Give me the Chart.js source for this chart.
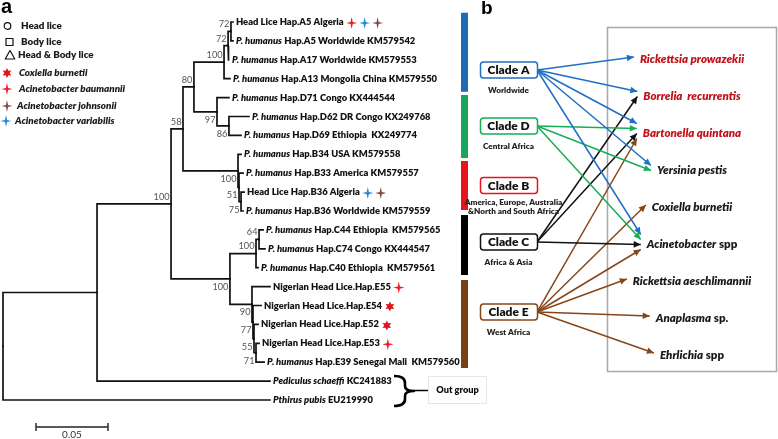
<!DOCTYPE html>
<html>
<head>
<meta charset="utf-8">
<script src="https://cdn.jsdelivr.net/npm/chart.js@4.4.1/dist/chart.umd.min.js"></script>
<style>
html, body { margin: 0; padding: 0; background: #fff; }
#wrap { width: 778px; height: 439px; position: relative; }
</style>
</head>
<body>
<div id="wrap"><canvas id="fig"></canvas></div>
<script>
// ---- panel a: haplotype tree, branch lengths in substitutions/site
const tipItalic = ['', 'P. humanus', 'P. humanus', 'P. humanus', 'P. humanus', 'P. humanus', 'P. humanus',
  'P. humanus', 'P. humanus', '', 'P. humanus', 'P. humanus', 'P. humanus', 'P. humanus',
  '', '', '', '', 'P. humanus', 'Pediculus schaeffi', 'Pthirus pubis'];
const tipText = ['Head Lice Hap.A5 Algeria', 'Hap.A5 Worldwide KM579542', 'Hap.A17 Worldwide KM579553',
  'Hap.A13 Mongolia China KM579550', 'Hap.D71 Congo KX444544', 'Hap.D62 DR Congo KX249768',
  'Hap.D69 Ethiopia  KX249774', 'Hap.B34 USA KM579558', 'Hap.B33 America KM579557',
  'Head Lice Hap.B36 Algeria', 'Hap.B36 Worldwide KM579559', 'Hap.C44 Ethiopia  KM579565',
  'Hap.C74 Congo KX444547', 'Hap.C40 Ethiopia  KM579561', 'Nigerian Head Lice.Hap.E55',
  'Nigerian Head Lice.Hap.E54', 'Nigerian Head Lice.Hap.E52', 'Nigerian Head Lice.Hap.E53',
  'Hap.E39 Senegal Mali  KM579560', 'KC241883', 'EU219990'];
const tipDepth = [0.1597, 0.1597, 0.1569, 0.1576, 0.1569, 0.1708, 0.1653, 0.1653, 0.1667, 0.1674, 0.1667,
  0.1806, 0.1819, 0.1771, 0.1854, 0.1792, 0.1771, 0.1778, 0.1813, 0.1854, 0.1854];
const tipParent = [7, 7, 6, 5, 8, 9, 9, 10, 11, 12, 12, 15, 15, 14, 16, 17, 18, 19, 19, 1, 0];

// internal nodes (0 = root)
const nodeDepth = [0, 0.0653, 0.1167, 0.1250, 0.1326, 0.1535, 0.1563, 0.1583, 0.1486, 0.1569,
  0.1632, 0.1639, 0.1653, 0.1576, 0.1757, 0.1778, 0.1729, 0.1736, 0.1743, 0.1757];
const nodeParent = [-1, 0, 1, 2, 3, 4, 5, 6, 4, 8, 3, 10, 11, 2, 13, 14, 13, 16, 17, 18];
const nodeSupport = [null, null, 100, 58, 80, 100, 72, 72, 97, 86, 100, 51, 75, 100, 100, 64, 90, 77, 55, 71];

// bacteria detected per haplotype
const hostTip = [0, 0, 0, 9, 9, 14, 15, 16, 17];
const hostBacterium = ['baumannii', 'variabilis', 'johnsonii', 'variabilis', 'johnsonii',
  'baumannii', 'burnetii', 'burnetii', 'baumannii'];

// clade bars, in tip rows (A, D, B, C, E)
const cladeBarFrom = [-0.49, 3.86, 7.35, 10.21, 13.65];
const cladeBarTo = [3.69, 7.2, 9.95, 13.39, 18.31];
const scaleBarLength = 0.05;

// ---- panel b: clades and pathogens
const clades = ['Clade A', 'Clade D', 'Clade B', 'Clade C', 'Clade E'];
const cladeRegion = [['Worldwide'], ['Central Africa'], ['America, Europe, Australia', '&North and South Africa'],
  ['Africa & Asia'], ['West Africa']];
const pathogenItalic = ['Rickettsia prowazekii', 'Borrelia  recurrentis', 'Bartonella quintana', 'Yersinia pestis',
  'Coxiella burnetii', 'Acinetobacter', 'Rickettsia aeschlimannii', 'Anaplasma', 'Ehrlichia'];
const pathogenPlain = ['', '', '', '', '', ' spp', '', ' sp.', ' spp'];
const linkClade =    [0, 0, 0, 0, 0, 1, 1, 1, 3, 3, 3, 4, 4, 4, 4, 4, 4];
const linkPathogen = [0, 1, 2, 3, 5, 2, 3, 5, 1, 2, 5, 2, 4, 5, 6, 7, 8];

// ---- layout / style
const FONT = 'Lato, "Open Sans", sans-serif';
const W = '800';
const cladeColor = ['#1f6fc4', '#17ad57', '#e3161e', '#111111', '#86461a'];
const barColor = ['#1b6cb4', '#19a85b', '#e8131b', '#000000', '#7b3f12'];
const pathogenColor = ['#c0141c', '#c0141c', '#c0141c', '#1a1a1a', '#1a1a1a', '#1a1a1a', '#1a1a1a', '#1a1a1a', '#1a1a1a'];
const bugStyle = {
  burnetii: { color: '#e0141e', shape: 'star6', label: 'Coxiella burnetii' },
  baumannii: { color: '#ee1c25', shape: 'cross', label: 'Acinetobacter baumannii' },
  johnsonii: { color: '#8c4a4a', shape: 'cross', label: 'Acinetobacter johnsonii' },
  variabilis: { color: '#2a88d8', shape: 'cross', label: 'Acinetobacter variabilis' }
};
const supportBelow = [0, 0, 0, 0, 0, 0, 0, 0, 1, 1, 1, 1, 1, 1, 0, 0, 1, 1, 1, 1];
const PX_PER_UNIT = 1440, TREE_X0 = 3, ROW0 = 22, ROW_H = 18.9;
const PATH_Y0 = 59, PATH_H = 37, PATH_CX = 692;
const cladeBox = { x: 480, w: 57, h: 16, rows: [0.297, 1.811, 3.419, 4.946, 6.838] };
const BAR_X = 464.5;

// tree layout: tips on rows, internal node at middle of its children
const kids = nodeDepth.map(() => []);
tipParent.forEach((p, i) => kids[p].push({ tip: true, i }));
nodeParent.forEach((p, i) => { if (p >= 0) kids[p].push({ tip: false, i }); });
const nodeY = [];
function rowOf(k) { return k.tip ? k.i : nodeRow(k.i); }
function nodeRow(n) {
  if (nodeY[n] === undefined) {
    const ys = kids[n].map(rowOf);
    nodeY[n] = (Math.min(...ys) + Math.max(...ys)) / 2;
  }
  return nodeY[n];
}
nodeRow(0);

const lineBase = { showLine: true, pointRadius: 0, fill: false, tension: 0 };
const datasets = [];
function elbow(px, py, cx, cy) {
  datasets.push(Object.assign({
    data: [{ x: px, y: py }, { x: px, y: cy }, { x: cx, y: cy }],
    borderColor: '#111', borderWidth: 1.7, borderJoinStyle: 'miter', borderCapStyle: 'square',
    xAxisID: 'x', yAxisID: 'y'
  }, lineBase));
}
tipParent.forEach((p, i) => elbow(nodeDepth[p], nodeY[p], tipDepth[i], i));
nodeParent.forEach((p, i) => { if (p >= 0) elbow(nodeDepth[p], nodeY[p], nodeDepth[i], nodeY[i]); });

// scale bar
const sbStart = 33 / PX_PER_UNIT, sbRow = 21.43;
datasets.push(Object.assign({
  data: [{ x: sbStart, y: sbRow }, { x: sbStart + scaleBarLength, y: sbRow }],
  borderColor: '#222', borderWidth: 1.6, xAxisID: 'x', yAxisID: 'y', scaleBar: true
}, lineBase));

// clade colour bars
cladeBarFrom.forEach((f, k) => {
  datasets.push(Object.assign({
    data: [{ x: BAR_X, y: f }, { x: BAR_X, y: cladeBarTo[k] }],
    borderColor: barColor[k], borderWidth: 7, borderCapStyle: 'butt', xAxisID: 'xb', yAxisID: 'y'
  }, lineBase));
});

// arrows clade -> pathogen
const mctx = document.createElement('canvas').getContext('2d');
function pathParts(i) { return [[pathogenItalic[i], true], [pathogenPlain[i], false]]; }
function partsWidth(ctx, parts, size) {
  let w = 0;
  for (const [t, it] of parts) {
    ctx.font = (it ? 'italic ' : '') + W + ' ' + size + 'px ' + FONT;
    w += ctx.measureText(t).width;
  }
  return w;
}
const pathW = pathogenItalic.map((_, i) => partsWidth(mctx, pathParts(i), 11.5));
const incoming = pathogenItalic.map((_, p) => linkPathogen.filter(q => q === p).length);
const seen = pathogenItalic.map(() => 0);
linkClade.forEach((c, j) => {
  const p = linkPathogen[j];
  const k = seen[p]++;
  const dy = (k - (incoming[p] - 1) / 2) * 5 - 2;
  datasets.push(Object.assign({
    data: [{ x: cladeBox.x + cladeBox.w, y: cladeBox.rows[c] },
           { x: PATH_CX - pathW[p] / 2 - 6, y: p + dy / PATH_H }],
    borderColor: cladeColor[c], borderWidth: 1.5, xAxisID: 'xb', yAxisID: 'yb', arrow: true
  }, lineBase));
});

// ---- drawing helpers
function drawParts(ctx, parts, x, y, size, color) {
  let cx = x;
  ctx.fillStyle = color;
  for (const [t, it] of parts) {
    ctx.font = (it ? 'italic ' : '') + W + ' ' + size + 'px ' + FONT;
    ctx.fillText(t, cx, y);
    cx += ctx.measureText(t).width;
  }
  return cx;
}
function cross4(ctx, x, y, color) {
  const w = 1.1;
  ctx.beginPath();
  ctx.moveTo(x, y - 6); ctx.lineTo(x + w, y - w); ctx.lineTo(x + 5.5, y); ctx.lineTo(x + w, y + w);
  ctx.lineTo(x, y + 6); ctx.lineTo(x - w, y + w); ctx.lineTo(x - 5.5, y); ctx.lineTo(x - w, y - w);
  ctx.closePath(); ctx.fillStyle = color; ctx.fill();
}
function star6(ctx, x, y, color) {
  ctx.beginPath();
  for (let i = 0; i < 12; i++) {
    const r = i % 2 ? 2.6 : 5;
    const a = -Math.PI / 2 + i * Math.PI / 6;
    ctx.lineTo(x + r * Math.cos(a), y + r * Math.sin(a));
  }
  ctx.closePath(); ctx.fillStyle = color; ctx.fill();
}
function bugMark(ctx, key, x, y) {
  const s = bugStyle[key];
  if (s.shape === 'star6') star6(ctx, x, y, s.color); else cross4(ctx, x, y, s.color);
}

const figure = {
  id: 'figure',
  beforeDatasetsDraw(chart) {
    const ctx = chart.ctx;
    ctx.save();
    ctx.strokeStyle = '#a8a8a8'; ctx.lineWidth = 1.5;
    ctx.strokeRect(607.5, 27.5, 169, 344);
    ctx.strokeStyle = '#e6e6e6'; ctx.lineWidth = 1;
    ctx.strokeRect(428.5, 376.5, 58, 27);
    ctx.restore();
  },
  afterDatasetsDraw(chart) {
    const ctx = chart.ctx, sx = chart.scales.x, sy = chart.scales.y, by = chart.scales.yb;
    ctx.save();
    ctx.textBaseline = 'middle';

    // tip labels + bacteria marks
    const tipEnd = [];
    tipText.forEach((t, i) => {
      const parts = tipItalic[i] ? [[tipItalic[i], true], [' ' + t, false]] : [[t, false]];
      tipEnd[i] = drawParts(ctx, parts, sx.getPixelForValue(tipDepth[i]) + 3, sy.getPixelForValue(i), 9.4, '#111');
    });
    const count = {};
    hostTip.forEach((t, j) => {
      const k = count[t] = (count[t] || 0);
      count[t]++;
      bugMark(ctx, hostBacterium[j], tipEnd[t] + 8 + k * 13, sy.getPixelForValue(t) + 1);
    });

    // bootstrap values
    ctx.font = '9.2px ' + FONT; ctx.fillStyle = '#555'; ctx.textAlign = 'right';
    nodeSupport.forEach((s, n) => {
      if (s === null) return;
      ctx.fillText(String(s), sx.getPixelForValue(nodeDepth[n]) - 1.5,
        sy.getPixelForValue(nodeY[n]) + (supportBelow[n] ? 8 : -7));
    });

    // scale bar ticks and label
    const meta = chart.getDatasetMeta(datasets.findIndex(d => d.scaleBar));
    ctx.strokeStyle = '#222'; ctx.lineWidth = 1.4;
    meta.data.forEach(pt => { ctx.beginPath(); ctx.moveTo(pt.x, pt.y - 4); ctx.lineTo(pt.x, pt.y + 4); ctx.stroke(); });
    ctx.textAlign = 'center'; ctx.fillStyle = '#333'; ctx.font = '10px ' + FONT;
    ctx.fillText(String(scaleBarLength), (meta.data[0].x + meta.data[1].x) / 2, 435);

    // outgroup brace
    ctx.strokeStyle = '#000'; ctx.lineWidth = 2.6; ctx.lineJoin = 'round';
    ctx.beginPath();
    ctx.moveTo(394, 376); ctx.quadraticCurveTo(405, 376, 405, 383); ctx.lineTo(405, 386);
    ctx.quadraticCurveTo(405, 391, 414, 391); ctx.quadraticCurveTo(405, 391, 405, 396);
    ctx.lineTo(405, 399); ctx.quadraticCurveTo(405, 406, 394, 406);
    ctx.stroke();
    ctx.lineWidth = 1.5;
    ctx.beginPath(); ctx.moveTo(413, 390.5); ctx.lineTo(428, 390.5); ctx.stroke();
    ctx.fillStyle = '#111'; ctx.font = W + ' 9.2px ' + FONT;
    ctx.fillText('Out group', 457.5, 390);

    // legend
    ctx.textAlign = 'left'; ctx.strokeStyle = '#111'; ctx.lineWidth = 1.2;
    ctx.beginPath(); ctx.arc(7.5, 26, 3.3, 0, Math.PI * 2); ctx.stroke();
    ctx.strokeRect(6, 38.5, 7, 7);
    ctx.beginPath(); ctx.moveTo(10, 50.5); ctx.lineTo(14.8, 59); ctx.lineTo(5.2, 59); ctx.closePath(); ctx.stroke();
    drawParts(ctx, [['Head lice', false]], 21, 26, 9.8, '#1a1a1a');
    drawParts(ctx, [['Body lice', false]], 21, 42, 9.8, '#1a1a1a');
    drawParts(ctx, [['Head & Body lice', false]], 18, 55, 9.8, '#1a1a1a');
    [['burnetii', 7, 73, 19], ['baumannii', 7, 89, 19], ['johnsonii', 7, 106, 17], ['variabilis', 6, 121, 15]]
      .forEach(([key, x, y, tx]) => {
        bugMark(ctx, key, x, y);
        drawParts(ctx, [[bugStyle[key].label, true]], tx, y, 9.8, '#1a1a1a');
      });

    // panel letters
    ctx.fillStyle = '#000'; ctx.textBaseline = 'alphabetic';
    ctx.font = 'bold 20px "Liberation Sans", Arial, sans-serif';
    ctx.fillText('a', 1, 13);
    ctx.font = 'bold 19px "Liberation Sans", Arial, sans-serif';
    ctx.fillText('b', 481, 14);
    ctx.textBaseline = 'middle';

    // arrowheads
    chart.data.datasets.forEach((d, i) => {
      if (!d.arrow) return;
      const [a, b] = chart.getDatasetMeta(i).data;
      const ang = Math.atan2(b.y - a.y, b.x - a.x);
      ctx.fillStyle = d.borderColor;
      ctx.beginPath();
      ctx.moveTo(b.x, b.y);
      ctx.lineTo(b.x - 7 * Math.cos(ang) + 3.3 * Math.sin(ang), b.y - 7 * Math.sin(ang) - 3.3 * Math.cos(ang));
      ctx.lineTo(b.x - 7 * Math.cos(ang) - 3.3 * Math.sin(ang), b.y - 7 * Math.sin(ang) + 3.3 * Math.cos(ang));
      ctx.closePath(); ctx.fill();
    });

    // clade boxes
    clades.forEach((c, k) => {
      const cy = by.getPixelForValue(cladeBox.rows[k]);
      const cx = cladeBox.x + cladeBox.w / 2;
      ctx.beginPath();
      ctx.roundRect(cladeBox.x + 0.5, cy - cladeBox.h / 2, cladeBox.w, cladeBox.h, 3);
      ctx.fillStyle = '#fff'; ctx.fill();
      ctx.strokeStyle = cladeColor[k]; ctx.lineWidth = 1.5; ctx.stroke();
      ctx.textAlign = 'center'; ctx.fillStyle = '#111'; ctx.font = W + ' 12px ' + FONT;
      ctx.fillText(c, cx, cy + 0.5);
      ctx.font = W + ' 8.2px ' + FONT; ctx.fillStyle = '#222';
      cladeRegion[k].forEach((t, j) => {
        const off = cladeRegion[k].length > 1 ? 5 : 0;
        ctx.fillText(t, cx + off, cy + 17 + j * 9 + (cladeRegion[k].length > 1 ? 0 : 3));
      });
    });

    // pathogen labels
    ctx.textAlign = 'left';
    pathogenItalic.forEach((_, i) => {
      drawParts(ctx, pathParts(i), PATH_CX - pathW[i] / 2, by.getPixelForValue(i), 11.5, pathogenColor[i]);
    });
    ctx.restore();
  }
};

const rowMin = -ROW0 / ROW_H, rowMax = (439 - ROW0) / ROW_H;
new Chart(document.getElementById('fig'), {
  type: 'scatter',
  data: { datasets },
  options: {
    responsive: true, maintainAspectRatio: false, animation: false, events: [],
    layout: { padding: 0 },
    plugins: { legend: { display: false }, tooltip: { enabled: false } },
    scales: {
      x: { type: 'linear', display: false, min: -TREE_X0 / PX_PER_UNIT, max: (778 - TREE_X0) / PX_PER_UNIT },
      y: { type: 'linear', display: false, reverse: true, min: rowMin, max: rowMax },
      xb: { type: 'linear', axis: 'x', display: false, min: 0, max: 778 },
      yb: { type: 'linear', axis: 'y', display: false, reverse: true, min: -PATH_Y0 / PATH_H, max: (439 - PATH_Y0) / PATH_H }
    }
  },
  plugins: [figure]
});
</script>
</body>
</html>
